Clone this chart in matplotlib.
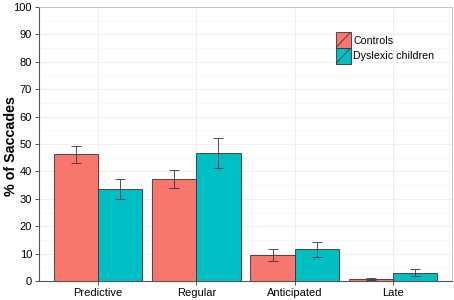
import matplotlib
matplotlib.use("Agg")
import matplotlib.pyplot as plt
import numpy as np
from matplotlib.patches import Rectangle, Patch
from matplotlib.lines import Line2D
from matplotlib.legend_handler import HandlerBase

categories = ["Predictive", "Regular", "Anticipated", "Late"]
groups = ["Controls", "Dyslexic children"]
controls = [46.2, 37.2, 9.5, 0.8]
controls_err = [3.1, 3.3, 2.3, 0.3]
dyslexic = [33.5, 46.6, 11.5, 3.0]
dyslexic_err = [3.7, 5.5, 2.7, 1.2]
colors = ["#F8766D", "#00BFC4"]

plt.rcParams['font.family'] = ['Liberation Sans', 'DejaVu Sans']

W, H = 454, 300
fig = plt.figure(figsize=(W/100, H/100), dpi=100)
ax = fig.add_axes([39/W, 1 - 281/H, (452-39)/W, (281-7)/H])

x = np.arange(1, len(categories) + 1)
w = 0.45
for vals, errs, c, off in [(controls, controls_err, colors[0], -w/2),
                           (dyslexic, dyslexic_err, colors[1], w/2)]:
    ax.bar(x + off, vals, width=w, color=c, edgecolor="#333333", linewidth=0.6, zorder=3)
    ax.errorbar(x + off, vals, yerr=errs, fmt="none", ecolor="#333333",
                elinewidth=0.6, capsize=3.6, capthick=0.6, zorder=4)

ax.set_xlim(0.4, 4.6)
ax.set_ylim(0, 100)
ax.set_xticks(x)
ax.set_xticklabels(categories)
ax.set_yticks(np.arange(0, 101, 10))
ax.set_yticks(np.arange(5, 100, 10), minor=True)
ax.grid(True, which="major", color="#EBEBEB", linewidth=0.6, zorder=0)
ax.grid(True, which="minor", axis="y", color="#F5F5F5", linewidth=0.5, zorder=0)
ax.set_axisbelow(True)
ax.tick_params(axis="both", which="major", length=3, width=0.6, color="#333333",
               labelsize=8, labelcolor="black", pad=2)
ax.tick_params(axis="y", which="minor", length=0)
for s in ["left", "bottom"]:
    ax.spines[s].set_color("#555555")
    ax.spines[s].set_linewidth(0.8)
for s in ["top", "right"]:
    ax.spines[s].set_color("#BBBBBB")
    ax.spines[s].set_linewidth(0.6)
fig.text(11/W, 1 - 146/H, "% of Saccades", rotation=90, ha="center", va="center",
         fontsize=10.3, fontweight="bold")


class SlashHandler(HandlerBase):
    def create_artists(self, legend, orig_handle, xdescent, ydescent, width, height, fontsize, trans):
        r = Rectangle((-xdescent, -ydescent), width, height, facecolor=orig_handle.get_facecolor(),
                      edgecolor="#333333", linewidth=0.6, transform=trans)
        l = Line2D([-xdescent, -xdescent + width], [-ydescent, -ydescent + height],
                   color="#333333", linewidth=0.6, transform=trans)
        l.set_clip_path(r)
        return [r, l]


handles = [Patch(facecolor=c) for c in colors]
leg = ax.legend(handles, groups, handler_map={Patch: SlashHandler()},
                loc="upper left", bbox_to_anchor=(0.718, 0.908), frameon=False,
                fontsize=7.7, handlelength=1.4, handleheight=1.9, handletextpad=0.25,
                labelspacing=0.0, borderpad=0, borderaxespad=0)

fig.savefig("out.png", dpi=100)
